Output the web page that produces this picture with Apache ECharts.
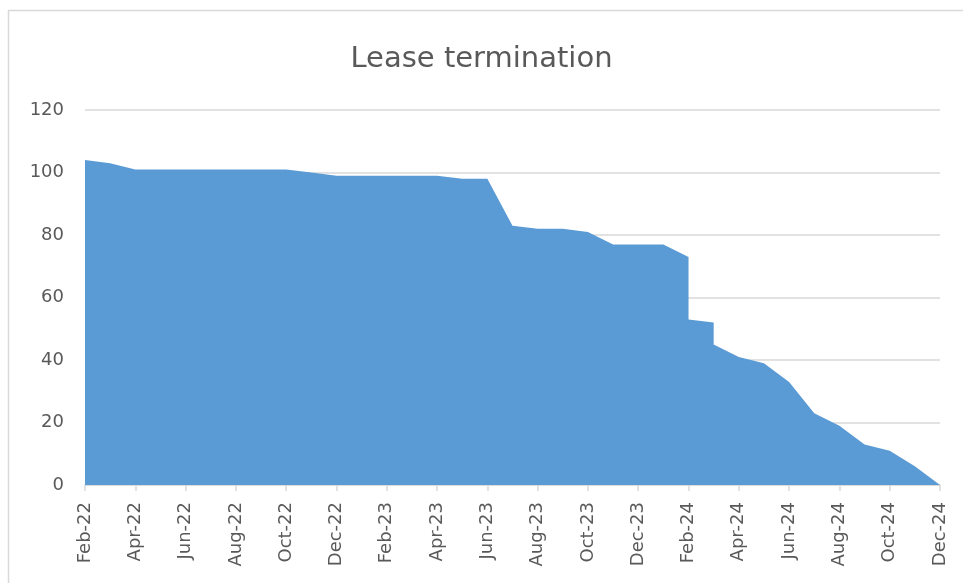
<!DOCTYPE html>
<html>
<head>
<meta charset="utf-8">
<script src="https://cdn.jsdelivr.net/npm/echarts@6/dist/echarts.min.js"></script>
<style>
  html, body { margin: 0; padding: 0; background: #fff; }
  #main { width: 963px; height: 583px; }
</style>
</head>
<body>
<div id="main"></div>
<script>
// monthly points; a month listed twice gives the vertical drop
var months = ['2022-02', '2022-03', '2022-04', '2022-05', '2022-06', '2022-07', '2022-08',
  '2022-09', '2022-10', '2022-11', '2022-12', '2023-01', '2023-02', '2023-03', '2023-04',
  '2023-05', '2023-06', '2023-07', '2023-08', '2023-09', '2023-10', '2023-11', '2023-12',
  '2024-01', '2024-02', '2024-02', '2024-03', '2024-03', '2024-04', '2024-05', '2024-06',
  '2024-07', '2024-08', '2024-09', '2024-10', '2024-11', '2024-12'];
var leases = [104, 103, 101, 101, 101, 101, 101,
  101, 101, 100, 99, 99, 99, 99, 99,
  98, 98, 83, 82, 82, 81, 77, 77,
  77, 73, 53, 52, 45, 41, 39, 33,
  23, 19, 13, 11, 6, 0];
var tickLabels = ['Feb-22', 'Apr-22', 'Jun-22', 'Aug-22', 'Oct-22', 'Dec-22', 'Feb-23',
  'Apr-23', 'Jun-23', 'Aug-23', 'Oct-23', 'Dec-23', 'Feb-24', 'Apr-24', 'Jun-24',
  'Aug-24', 'Oct-24', 'Dec-24'];

function monthIndex(s) {
  var p = s.split('-');
  return (parseInt(p[0], 10) - 2022) * 12 + parseInt(p[1], 10) - 2;
}

var chart = echarts.init(document.getElementById('main'));

var option = {
  animation: false,
  title: {
    text: 'Lease termination',
    left: 'center',
    top: 40,
    textStyle: {
      fontFamily: 'DejaVu Sans',
      fontSize: 29,
      fontWeight: 'normal',
      color: '#595959'
    }
  },
  graphic: [{
    type: 'rect',
    shape: { x: 8.5, y: 10.5, width: 1200, height: 1200 },
    style: { fill: 'none', stroke: '#d9d9d9', lineWidth: 1.5 }
  }],
  grid: {
    left: 85,
    right: 23,
    top: 110,
    bottom: 98
  },
  xAxis: {
    type: 'value',
    min: 0,
    max: 34,
    interval: 2,
    splitLine: { show: false },
    axisLine: { show: true, lineStyle: { color: '#d9d9d9', width: 1.5 } },
    axisTick: { show: true, length: 6, lineStyle: { color: '#d9d9d9', width: 1.5 } },
    axisLabel: {
      rotate: 90,
      margin: 17,
      fontFamily: 'DejaVu Sans',
      fontSize: 18,
      color: '#595959',
      formatter: function (v) { return tickLabels[v / 2]; }
    }
  },
  yAxis: {
    type: 'value',
    min: 0,
    max: 120,
    interval: 20,
    axisLine: { show: false },
    axisTick: { show: false },
    splitLine: { lineStyle: { color: '#d9d9d9', width: 1.5 } },
    axisLabel: {
      margin: 21,
      fontFamily: 'DejaVu Sans',
      fontSize: 18,
      color: '#595959'
    }
  },
  series: [{
    name: 'Lease termination',
    type: 'line',
    showSymbol: false,
    lineStyle: { width: 0 },
    areaStyle: { color: '#5b9bd5', opacity: 1 },
    data: months.map(function (m, i) { return [monthIndex(m), leases[i]]; })
  }]
};

chart.setOption(option);
</script>
</body>
</html>
